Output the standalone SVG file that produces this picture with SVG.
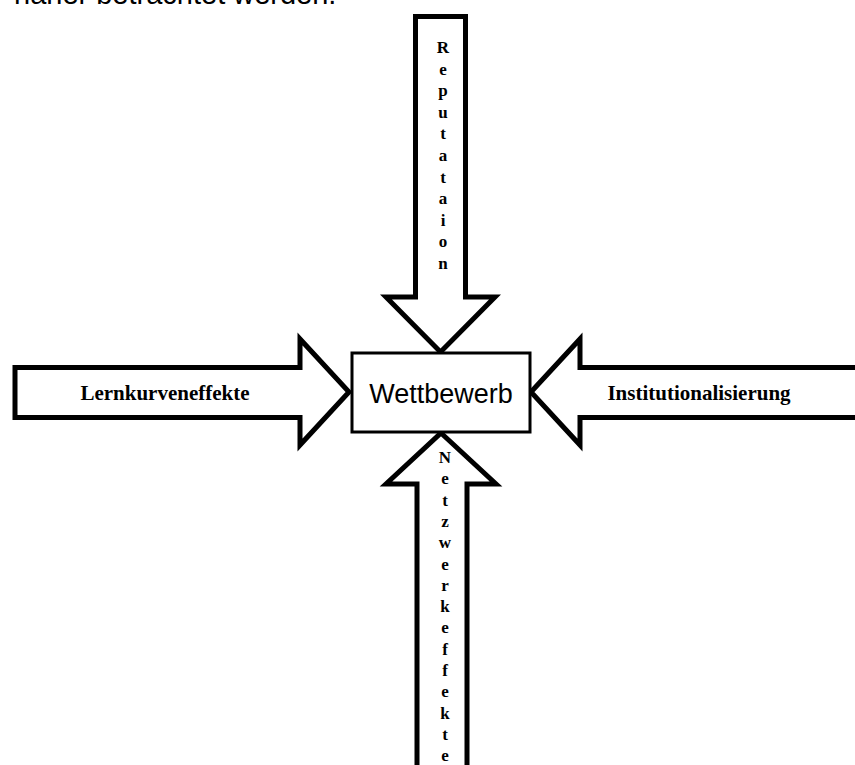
<svg xmlns="http://www.w3.org/2000/svg" width="855" height="765" viewBox="0 0 855 765">
<style>
.arrow{fill:#fff;stroke:#000;stroke-width:5;stroke-linejoin:miter;stroke-miterlimit:10}
.lbl{font-family:"Liberation Serif","Times New Roman",serif;font-weight:bold;font-size:21px;fill:#000}
.vl{font-family:"Liberation Serif","Times New Roman",serif;font-weight:bold;font-size:17px;fill:#000;text-anchor:middle}
</style>
<rect width="855" height="765" fill="#fff"/>
<text x="14" y="4" font-family="Liberation Sans, Arial, sans-serif" font-size="29" fill="#000">näher betrachtet werden.</text>
<g id="connectors">
<g id="arrow-top">
<polygon class="arrow" points="415.5,16.5 465.5,16.5 465.5,297 495,297 440.5,352 386,297 415.5,297"/>
<text class="vl"><tspan x="443" y="53">R</tspan><tspan x="443" y="74.6">e</tspan><tspan x="443" y="96.2">p</tspan><tspan x="443" y="117.8">u</tspan><tspan x="443" y="139.4">t</tspan><tspan x="443" y="161">a</tspan><tspan x="443" y="182.6">t</tspan><tspan x="443" y="204.2">a</tspan><tspan x="443" y="225.8">i</tspan><tspan x="443" y="247.4">o</tspan><tspan x="443" y="269">n</tspan></text>
</g>
<g id="arrow-left">
<polygon class="arrow" points="15,367.5 300,367.5 300,339 349,392 300,445 300,417.5 15,417.5"/>
<text class="lbl" x="165" y="400" text-anchor="middle">Lernkurveneffekte</text>
</g>
<g id="arrow-right">
<polygon class="arrow" points="531,392 580,339 580,367.5 870,367.5 870,417.5 580,417.5 580,445"/>
<text class="lbl" x="699" y="400" text-anchor="middle">Institutionalisierung</text>
</g>
<g id="arrow-bottom">
<polygon class="arrow" points="441,433 496,484 467,484 467,790 417,790 417,484 386,484"/>
<text class="vl"><tspan x="445" y="463">N</tspan><tspan x="445" y="484.3">e</tspan><tspan x="445" y="505.6">t</tspan><tspan x="445" y="526.9">z</tspan><tspan x="445" y="548.2">w</tspan><tspan x="445" y="569.5">e</tspan><tspan x="445" y="590.8">r</tspan><tspan x="445" y="612.1">k</tspan><tspan x="445" y="633.4">e</tspan><tspan x="445" y="654.7">f</tspan><tspan x="445" y="676">f</tspan><tspan x="445" y="697.3">e</tspan><tspan x="445" y="718.6">k</tspan><tspan x="445" y="739.9">t</tspan><tspan x="445" y="761.2">e</tspan></text>
</g>
</g>
<g id="node-wettbewerb">
<rect x="352" y="353" width="178" height="79" fill="#fff" stroke="#000" stroke-width="3"/>
<text x="441" y="403" text-anchor="middle" font-family="Liberation Sans, Arial, sans-serif" font-size="27" fill="#000">Wettbewerb</text>
</g>
</svg>
